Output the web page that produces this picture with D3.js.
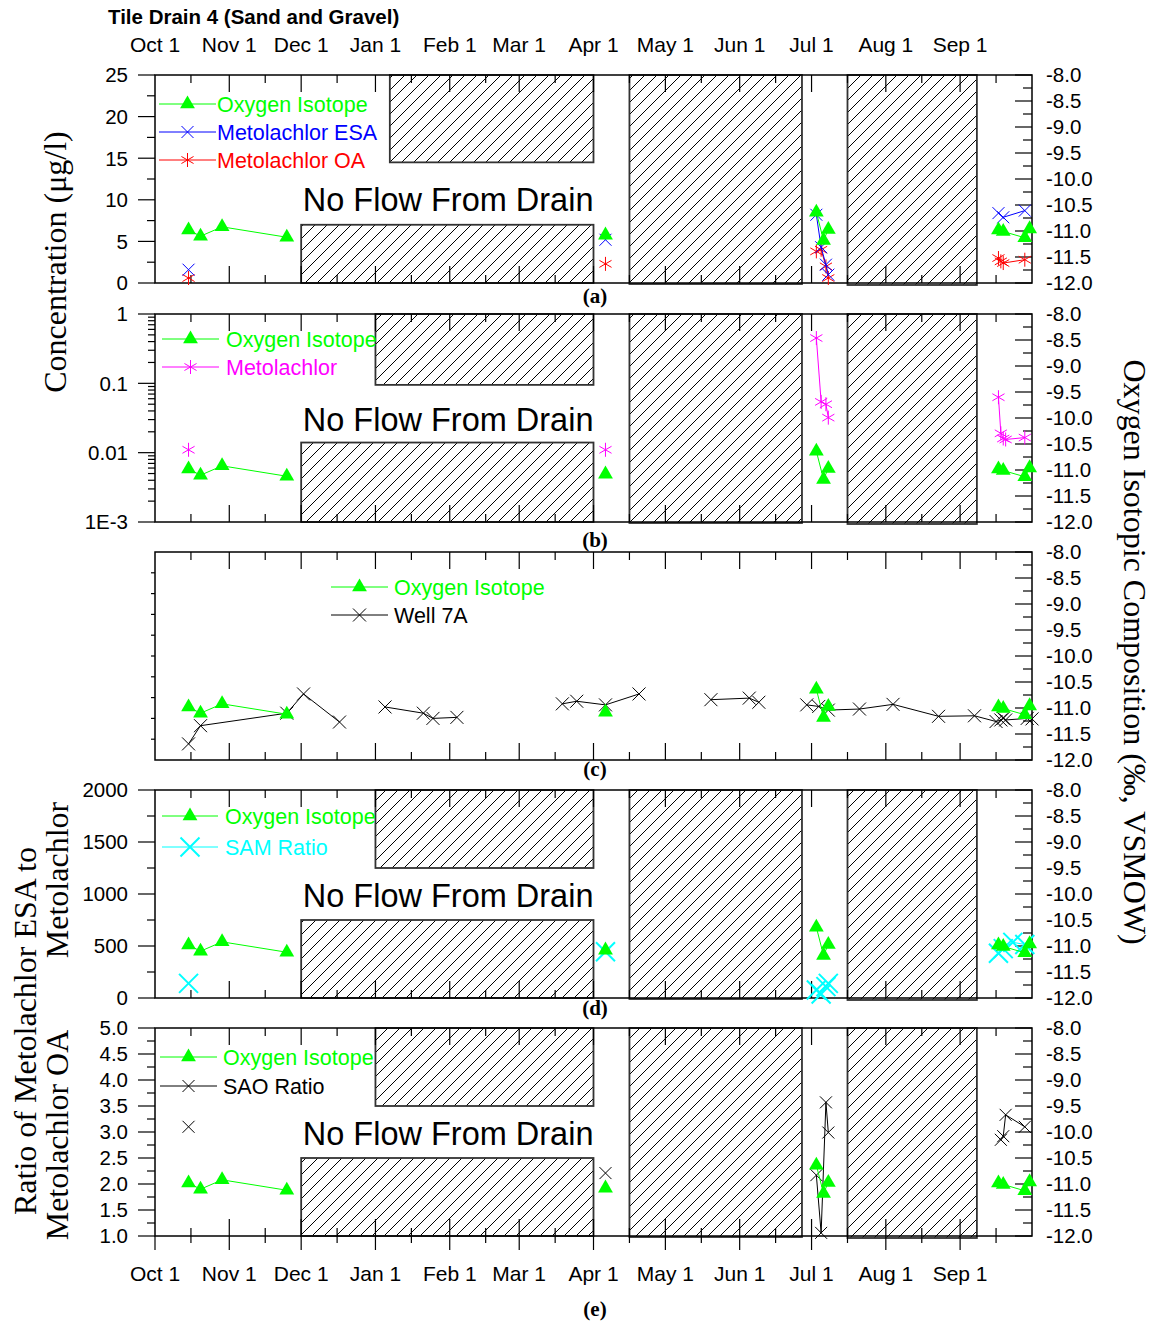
<!DOCTYPE html>
<html>
<head>
<meta charset="utf-8">
<script src="https://cdn.jsdelivr.net/npm/d3@7"></script>
<style>
  body { margin: 0; background: #fff; }
  text { font-family: Arial, "Liberation Sans", sans-serif; }
  .serif { font-family: "Times New Roman", "Liberation Serif", serif; }
</style>
</head>
<body>
<script>
const parse = d3.timeParse("%Y-%m-%d");

// oxygen isotope, per mil VSMOW (same samples in every panel)
const oxyDates = ["2003-10-15","2003-10-20","2003-10-29","2003-11-25","2004-04-06",
  "2004-07-03","2004-07-06","2004-07-08","2004-09-17","2004-09-19","2004-09-28","2004-09-30"];
const oxyValues = [-10.98,-11.10,-10.92,-11.12,-11.08,-10.64,-11.18,-10.97,-10.98,-11.01,-11.13,-10.96];

// panel a, ug/l
const esaDates = ["2003-10-15","2004-04-06","2004-07-03","2004-07-05","2004-07-07","2004-07-08",
  "2004-09-17","2004-09-19","2004-09-28"];
const esaValues = [1.6,5.2,8.2,4.3,2.2,1.0,8.4,7.9,8.7];
const oaDates = ["2003-10-15","2004-04-06","2004-07-03","2004-07-05","2004-07-07","2004-07-08",
  "2004-09-17","2004-09-18","2004-09-19","2004-09-28"];
const oaValues = [0.6,2.3,3.8,4.0,2.0,0.6,3.0,2.6,2.4,2.8];

// panel b, ug/l (log)
const metDates = ["2003-10-15","2004-04-06","2004-07-03","2004-07-05","2004-07-07","2004-07-08",
  "2004-09-17","2004-09-18","2004-09-19","2004-09-20","2004-09-28"];
const metValues = [0.011,0.011,0.45,0.054,0.050,0.032,0.063,0.019,0.016,0.0155,0.0165];

// panel c, well 7A oxygen isotope
const wellDates = ["2003-10-15","2003-10-20","2003-11-25","2003-12-02","2003-12-17",
  "2004-01-05","2004-01-21","2004-01-25","2004-02-04",
  "2004-03-19","2004-03-25","2004-04-06","2004-04-20",
  "2004-05-20","2004-06-05","2004-06-09",
  "2004-06-29","2004-07-04","2004-07-08","2004-07-21","2004-08-04","2004-08-23","2004-09-07",
  "2004-09-16","2004-09-18","2004-09-19","2004-09-20","2004-09-29","2004-10-01"];
const wellValues = [-11.69,-11.34,-11.10,-10.73,-11.27,
  -10.98,-11.10,-11.20,-11.18,
  -10.92,-10.87,-10.94,-10.73,
  -10.84,-10.81,-10.89,
  -10.94,-10.97,-11.04,-11.02,-10.93,-11.16,-11.15,
  -11.26,-11.23,-11.20,-11.23,-11.20,-11.21];
const wellSegment = [1,1,1,1,1, 2,2,2,2, 3,3,3,3, 4,4,4, 5,5,5,5,5,5,5, 5,5,5,5,5,5];

// panel d, ESA / metolachlor
const samDates = ["2003-10-15","2004-04-06","2004-07-03","2004-07-05","2004-07-07","2004-07-08",
  "2004-09-17","2004-09-19","2004-09-23","2004-09-28"];
const samValues = [141,445,77,38,109,141,430,475,535,515];

// panel e, OA / metolachlor
const saoDates = ["2003-10-15","2004-04-06","2004-07-03","2004-07-05","2004-07-07","2004-07-08",
  "2004-09-18","2004-09-19","2004-09-20","2004-09-28"];
const saoValues = [3.10,2.21,2.17,1.06,3.57,2.99,2.85,2.92,3.33,3.10];

// no-flow periods
const boxStart = ["2003-12-01","2004-01-01","2004-04-16","2004-07-16"];
const boxEnd   = ["2004-04-01","2004-04-01","2004-06-27","2004-09-08"];
const lowerBoxTop    = [7, 0.014, null, 750, 2.5];
const upperBoxBottom = [14.5, 0.095, null, 1250, 3.5];
const upperBoxStart  = ["2004-01-07","2004-01-01",null,"2004-01-01","2004-01-01"];

const panelLetters = ["(a)","(b)","(c)","(d)","(e)"];

const W = 1158, H = 1324;
const svg = d3.select("body").append("svg").attr("width", W).attr("height", H);

const pat = svg.append("defs").append("pattern").attr("id","hatch")
  .attr("patternUnits","userSpaceOnUse").attr("width",12).attr("height",12);
pat.append("rect").attr("width",12).attr("height",12).attr("fill","#fff");
pat.append("path").attr("d","M-3,3L3,-3M0,12L12,0M9,15L15,9")
  .attr("stroke","#000").attr("stroke-width",1);

const x = d3.scaleTime().domain([parse("2003-10-01"), parse("2004-10-01")]).range([155, 1032]);
const panelTop = [75, 314, 552, 790, 1028];
const panelH = 208;
const GREEN = "#00ff00";

// plain hyphen for negatives, like the original
const loc = d3.formatLocale({ decimal: ".", thousands: ",", grouping: [3], currency: ["", ""], minus: "-" });
const f1 = loc.format(".1f");

const months = d3.timeMonth.range(parse("2003-10-01"), parse("2004-10-01"));
const mids = months.map(m => d3.timeDay.offset(m, 15));

// marker shapes
function crossPath(r) { return `M${-r},${-r}L${r},${r}M${-r},${r}L${r},${-r}`; }
function starPath(r) {
  const a = r * Math.cos(Math.PI / 6), b = r * 0.5;
  return `M0,${-r}L0,${r}M${-a},${-b}L${a},${b}M${-a},${b}L${a},${-b}`;
}
const shapes = {
  tri:   { d: d3.symbol().type(d3.symbolTriangle).size(95)(), fill: true },
  xs:    { d: crossPath(6), w: 1 },
  xw:    { d: crossPath(6.5), w: 1 },
  xbig:  { d: crossPath(9.5), w: 2 },
  star:  { d: starPath(7), w: 1 }
};

function mark(g, shape, color, px, py) {
  const s = shapes[shape];
  g.append("path").attr("transform", `translate(${px},${py})`).attr("d", s.d)
    .attr("fill", s.fill ? color : "none")
    .attr("stroke", s.fill ? "none" : color).attr("stroke-width", s.w || 0);
}

function drawSeries(g, dates, vals, y, color, shape, segIds) {
  const pts = dates.map((d, i) => ({ d: parse(d), v: vals[i], s: segIds ? segIds[i] : 0 }));
  const segs = [];
  pts.forEach((p, i) => {
    const prev = pts[i - 1];
    const brk = !prev || (segIds ? p.s !== prev.s : (p.d - prev.d) / 864e5 > 40);
    if (brk) segs.push([]);
    segs[segs.length - 1].push(p);
  });
  const line = d3.line().x(p => x(p.d)).y(p => y(p.v));
  g.selectAll(null).data(segs.filter(s => s.length > 1)).enter().append("path")
    .attr("d", line).attr("fill", "none").attr("stroke", color).attr("stroke-width", 1);
  pts.forEach(p => mark(g, shape, color, x(p.d), y(p.v)));
}

// left axis setup per panel
const leftScales = [
  d3.scaleLinear().domain([0, 25]),
  d3.scaleLog().domain([0.001, 1]),
  null,
  d3.scaleLinear().domain([0, 2000]),
  d3.scaleLinear().domain([1, 5])
];
const leftMajor = [
  d3.range(0, 26, 5),
  [0.001, 0.01, 0.1, 1],
  [],
  d3.range(0, 2001, 500),
  d3.range(1, 5.01, 0.5)
];
const leftMinor = [
  d3.range(2.5, 25, 5),
  d3.merge([0.001, 0.01, 0.1].map(b => d3.range(2, 10).map(k => b * k))),
  [],
  d3.range(250, 2000, 500),
  d3.range(1.25, 5, 0.5)
];
const logLabel = { 0.001: "1E-3", 0.01: "0.01", 0.1: "0.1", 1: "1" };
const leftFormat = [d3.format("d"), v => logLabel[v], null, d3.format("d"), f1];

const legends = [
  { x0: 159, x1: 216, tx: 217, rows: [
    { y: 104, label: "Oxygen Isotope", color: GREEN, shape: "tri" },
    { y: 132, label: "Metolachlor ESA", color: "#0000ff", shape: "xs" },
    { y: 160, label: "Metolachlor OA", color: "#ff0000", shape: "star" } ] },
  { x0: 162, x1: 219, tx: 226, rows: [
    { y: 339, label: "Oxygen Isotope", color: GREEN, shape: "tri" },
    { y: 367, label: "Metolachlor", color: "#ff00ff", shape: "star" } ] },
  { x0: 331, x1: 388, tx: 394, rows: [
    { y: 587, label: "Oxygen Isotope", color: GREEN, shape: "tri" },
    { y: 615, label: "Well 7A", color: "#000", shape: "xw" } ] },
  { x0: 162, x1: 218, tx: 225, rows: [
    { y: 816, label: "Oxygen Isotope", color: GREEN, shape: "tri" },
    { y: 847, label: "SAM Ratio", color: "#00ffff", shape: "xbig" } ] },
  { x0: 160, x1: 217, tx: 223, rows: [
    { y: 1057, label: "Oxygen Isotope", color: GREEN, shape: "tri" },
    { y: 1086, label: "SAO Ratio", color: "#000", shape: "xs" } ] }
];
const noFlowBaseline = [211, 431, null, 907, 1145];
const letterBaseline = [303, 547, 776, 1015, 1316];

panelTop.forEach((top, i) => {
  const bot = top + panelH;
  const g = svg.append("g");
  const yR = d3.scaleLinear().domain([-12, -8]).range([bot, top]);
  const yL = leftScales[i] ? leftScales[i].range([bot, top]) : null;

  // hatched no-flow boxes
  if (yL) {
    const boxes = [
      { x0: boxStart[0], x1: boxEnd[0], y0: yL(yL.domain()[0]), y1: yL(lowerBoxTop[i]) },
      { x0: upperBoxStart[i], x1: boxEnd[1], y0: yL(upperBoxBottom[i]), y1: top },
      { x0: boxStart[2], x1: boxEnd[2], y0: bot + 1, y1: top },
      { x0: boxStart[3], x1: boxEnd[3], y0: bot + 2, y1: top }
    ];
    g.selectAll(null).data(boxes).enter().append("rect")
      .attr("x", b => x(parse(b.x0))).attr("width", b => x(parse(b.x1)) - x(parse(b.x0)))
      .attr("y", b => b.y1).attr("height", b => b.y0 - b.y1)
      .attr("fill", "url(#hatch)").attr("stroke", "#333").attr("stroke-width", 1.8);
  }

  // frame
  g.append("rect").attr("x", 155).attr("y", top).attr("width", 1032 - 155).attr("height", panelH)
    .attr("fill", "none").attr("stroke", "#000").attr("stroke-width", 1.5);

  // x ticks
  const tk = g.append("g").attr("stroke", "#000").attr("stroke-width", 1.2);
  const last = i === 4;
  months.slice(1).forEach(m => {
    const px = x(m);
    tk.append("line").attr("x1", px).attr("x2", px).attr("y1", top).attr("y2", top + 17);
    tk.append("line").attr("x1", px).attr("x2", px).attr("y1", bot - 17).attr("y2", last ? bot + 14 : bot);
  });
  mids.forEach(m => {
    const px = x(m);
    tk.append("line").attr("x1", px).attr("x2", px).attr("y1", top).attr("y2", top + 8);
    tk.append("line").attr("x1", px).attr("x2", px).attr("y1", bot - 8).attr("y2", last ? bot + 7 : bot);
  });
  if (last) tk.append("line").attr("x1", 155).attr("x2", 155).attr("y1", bot).attr("y2", bot + 14);

  // right axis
  d3.range(-12, -7.99, 0.5).forEach(v => {
    tk.append("line").attr("x1", 1032 - 17).attr("x2", 1032).attr("y1", yR(v)).attr("y2", yR(v));
    g.append("text").attr("x", 1046).attr("y", yR(v)).attr("dy", "0.36em")
      .attr("font-size", 20.5).text(f1(v));
  });
  d3.range(-11.75, -8, 0.5).forEach(v => {
    tk.append("line").attr("x1", 1032 - 9).attr("x2", 1032).attr("y1", yR(v)).attr("y2", yR(v));
  });

  // left axis
  if (yL) {
    leftMajor[i].forEach(v => {
      tk.append("line").attr("x1", 138).attr("x2", 155).attr("y1", yL(v)).attr("y2", yL(v));
      g.append("text").attr("x", 128).attr("y", yL(v)).attr("dy", "0.36em")
        .attr("text-anchor", "end").attr("font-size", 20.5).text(leftFormat[i](v));
    });
    leftMinor[i].forEach(v => {
      tk.append("line").attr("x1", i === 1 ? 148 : 147).attr("x2", 155).attr("y1", yL(v)).attr("y2", yL(v));
    });
  } else {
    d3.range(1, 10).forEach(k => {
      const py = top + k * panelH / 10;
      tk.append("line").attr("x1", 151).attr("x2", 155).attr("y1", py).attr("y2", py);
    });
  }

  // no flow label
  if (noFlowBaseline[i]) {
    g.append("text").attr("x", x(parse("2004-04-01"))).attr("y", noFlowBaseline[i])
      .attr("text-anchor", "end").attr("font-size", 32.5).text("No Flow From Drain");
  }

  // panel letter
  g.append("text").attr("class", "serif").attr("x", 595).attr("y", letterBaseline[i])
    .attr("text-anchor", "middle").attr("font-size", 21).attr("font-weight", "bold")
    .text(panelLetters[i]);

  // legend
  const lg = legends[i];
  lg.rows.forEach(r => {
    g.append("line").attr("x1", lg.x0).attr("x2", lg.x1).attr("y1", r.y).attr("y2", r.y)
      .attr("stroke", r.color).attr("stroke-width", 1);
    mark(g, r.shape, r.color, (lg.x0 + lg.x1) / 2, r.y);
    g.append("text").attr("x", lg.tx).attr("y", r.y).attr("dy", "0.36em")
      .attr("font-size", 21.5).attr("fill", r.color).text(r.label);
  });

  // series
  if (i === 0) {
    drawSeries(g, oaDates, oaValues, yL, "#ff0000", "star");
    drawSeries(g, esaDates, esaValues, yL, "#0000ff", "xs");
  }
  if (i === 1) drawSeries(g, metDates, metValues, yL, "#ff00ff", "star");
  if (i === 2) drawSeries(g, wellDates, wellValues, yR, "#000", "xw", wellSegment);
  if (i === 3) drawSeries(g, samDates, samValues, yL, "#00ffff", "xbig");
  if (i === 4) drawSeries(g, saoDates, saoValues, yL, "#000", "xs");
  drawSeries(g, oxyDates, oxyValues, yR, GREEN, "tri");
});

// month labels, top and bottom
const fmt = d3.timeFormat("%b %-d");
[52, 1281].forEach(yy => {
  svg.append("g").selectAll("text").data(months).enter().append("text")
    .attr("x", d => x(d)).attr("y", yy).attr("text-anchor", "middle")
    .attr("font-size", 21).text(fmt);
});

// title
svg.append("text").attr("x", 108).attr("y", 24).attr("font-size", 20.5)
  .attr("font-weight", "bold").text("Tile Drain 4 (Sand and Gravel)");

// axis titles
function vText(tx, ty, angle, str) {
  svg.append("text").attr("class", "serif")
    .attr("transform", `translate(${tx},${ty}) rotate(${angle})`)
    .attr("text-anchor", "middle").attr("dominant-baseline", "central")
    .attr("font-size", 32).text(str);
}
vText(55, 262, -90, "Concentration (\u03bcg/l)");
vText(25, 1031, -90, "Ratio of Metolachlor ESA to");
vText(57, 880, -90, "Metolachlor");
vText(57, 1135, -90, "Metolachlor OA");
vText(1135, 652, 90, "Oxygen Isotopic Composition (\u2030, VSMOW)");
</script>
</body>
</html>
